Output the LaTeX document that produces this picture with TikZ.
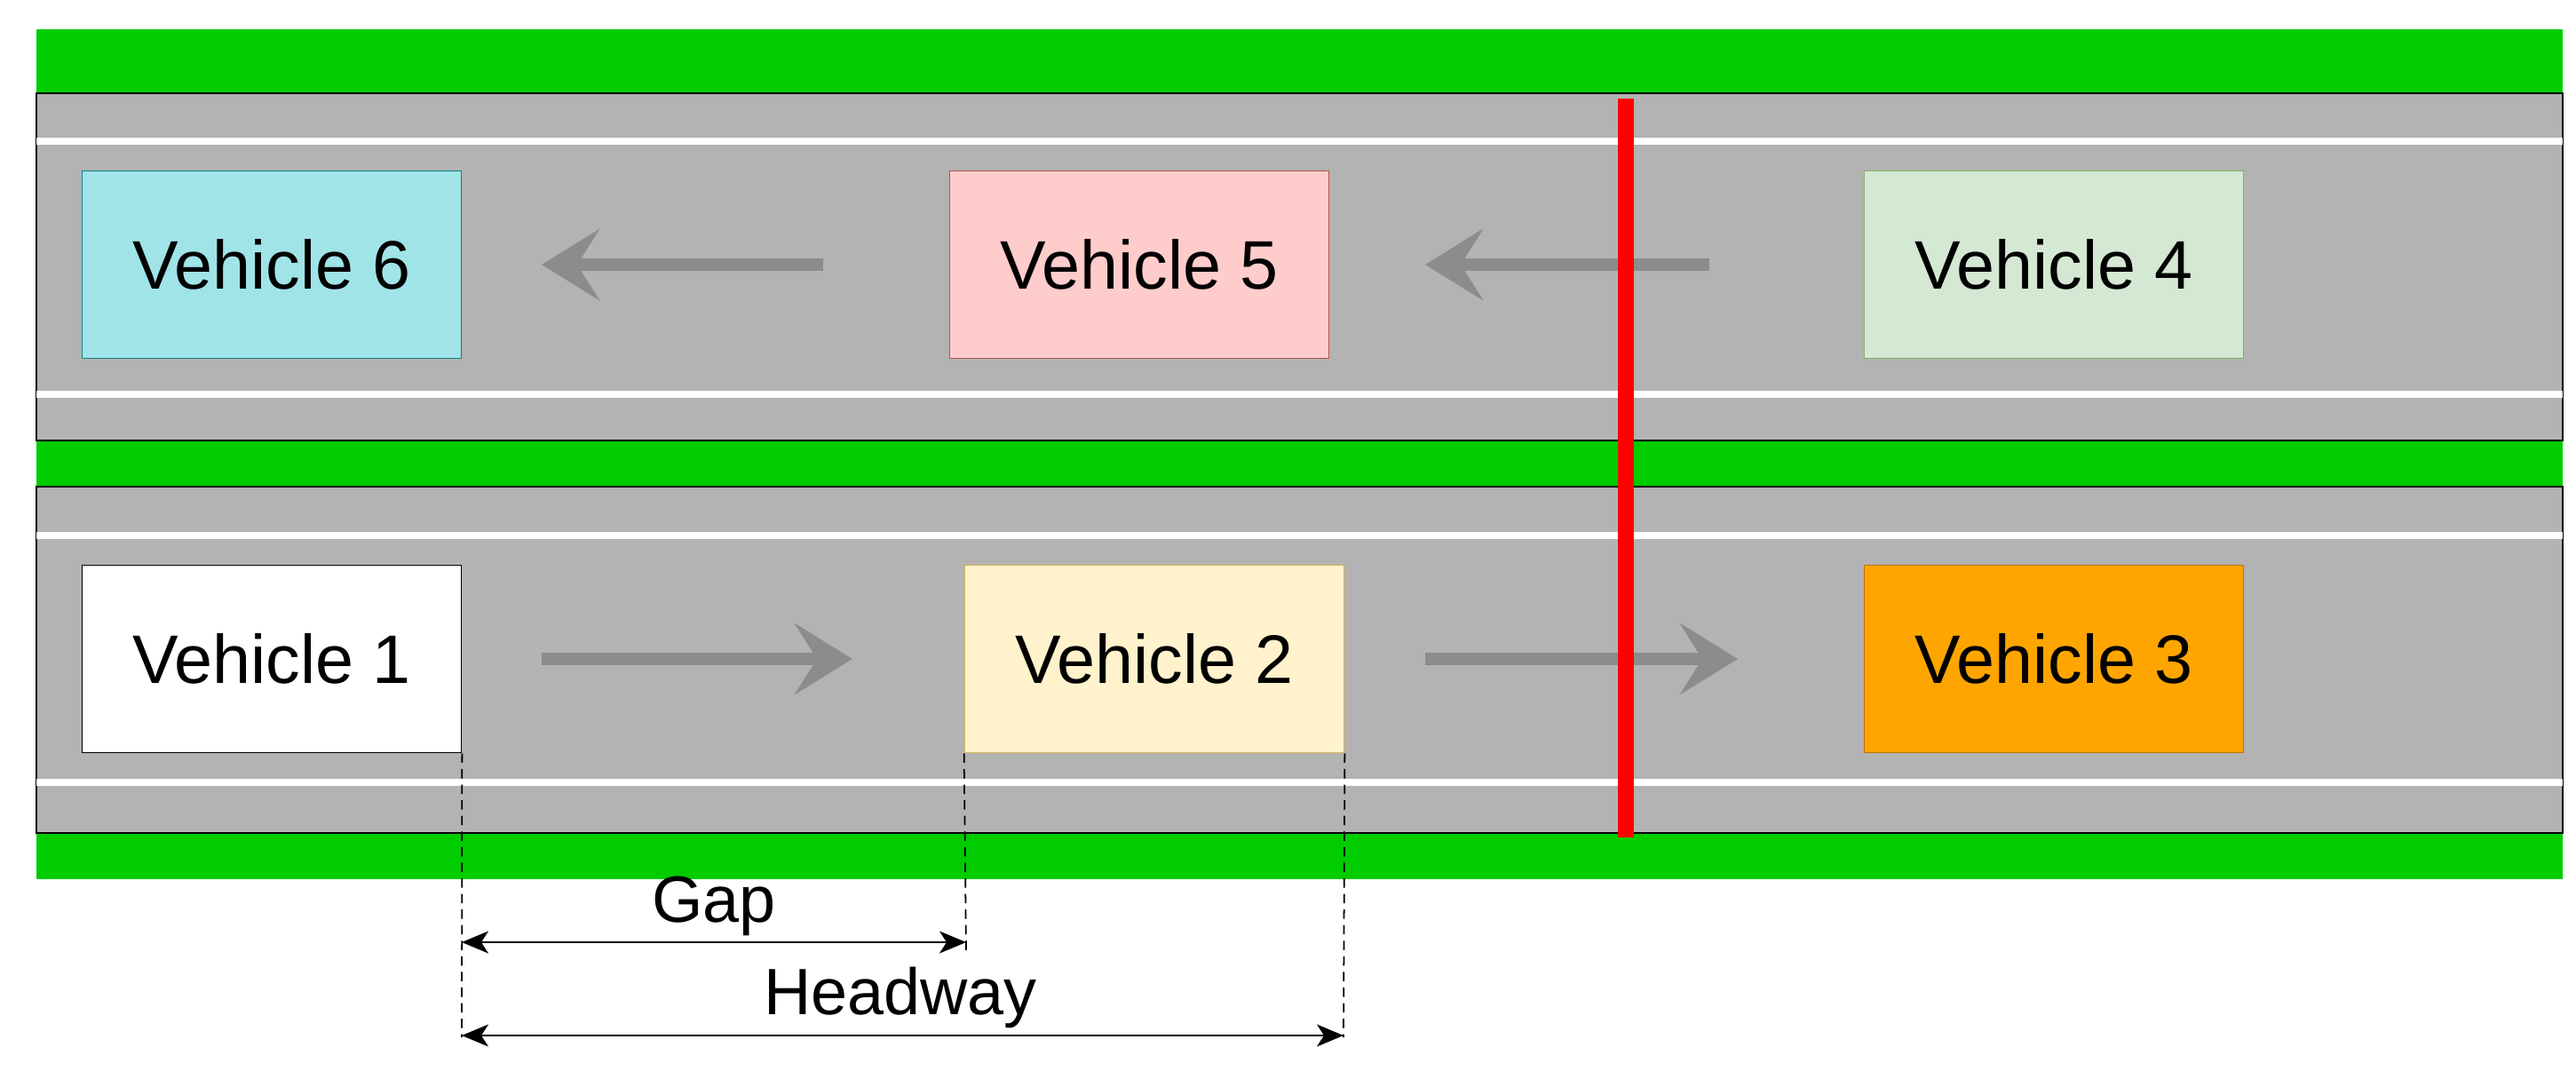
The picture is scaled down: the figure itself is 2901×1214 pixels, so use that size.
\documentclass[tikz,border=0pt]{standalone}
\usepackage{fontspec}
\setmainfont{Liberation Sans}
\usetikzlibrary{arrows.meta}
\definecolor{grass}{HTML}{00CC00}
\definecolor{road}{HTML}{B3B3B3}
\definecolor{flow}{HTML}{8C8C8C}
\begin{document}
\begin{tikzpicture}[x=0.1mm,y=-0.1mm,
  veh/.style={draw, line width=0.5pt, minimum width=42.7mm, minimum height=21.1mm, inner sep=0pt, font=\fontsize{22}{26}\selectfont},
  flowarrow/.style={draw=flow, line width=1.4mm, -{Stealth[length=6.5mm,width=8mm,inset=2.5mm]}},
  lane/.style={draw=white, line width=0.8mm},
  dim/.style={draw, line width=0.5pt, {Stealth[length=3mm,width=2.5mm,inset=0.8mm]}-{Stealth[length=3mm,width=2.5mm,inset=0.8mm]}},
  guide/.style={draw, line width=0.5pt, dashed, dash pattern=on 3pt off 2pt},
  lbl/.style={font=\fontsize{21}{25}\selectfont, inner sep=1pt}]
\useasboundingbox (0,0) rectangle (2901,1214);
% green bands
\fill[grass] (41,33) rectangle (2886,990);
% roads
\filldraw[fill=road, draw=black, line width=0.6pt] (41,105) rectangle (2886,496);
\filldraw[fill=road, draw=black, line width=0.6pt] (41,548) rectangle (2886,938);
% lane lines
\draw[lane] (41,159) -- (2886,159);
\draw[lane] (41,444) -- (2886,444);
\draw[lane] (41,603) -- (2886,603);
\draw[lane] (41,881) -- (2886,881);
% vehicles
\node[veh, fill={rgb,255:red,160;green,228;blue,232}, draw={rgb,255:red,14;green,128;blue,136}] (v6) at (306,298) {Vehicle 6};
\node[veh, fill={rgb,255:red,255;green,204;blue,204}, draw={rgb,255:red,184;green,84;blue,80}] (v5) at (1283,298) {Vehicle 5};
\node[veh, fill={rgb,255:red,213;green,232;blue,212}, draw={rgb,255:red,130;green,179;blue,102}] (v4) at (2313,298) {Vehicle 4};
\node[veh, fill=white, draw=black] (v1) at (306,742) {Vehicle 1};
\node[veh, fill={rgb,255:red,255;green,242;blue,204}, draw={rgb,255:red,214;green,182;blue,86}] (v2) at (1300,742) {Vehicle 2};
\node[veh, fill={rgb,255:red,255;green,165;blue,0}, draw={rgb,255:red,189;green,112;blue,0}] (v3) at (2313,742) {Vehicle 3};
% flow arrows
\coordinate (a1s) at (927,298); \coordinate (a1e) at (610,298);
\coordinate (a2s) at (1925,298); \coordinate (a2e) at (1605,298);
\coordinate (b1s) at (610,742); \coordinate (b1e) at (960,742);
\coordinate (b2s) at (1605,742); \coordinate (b2e) at (1957,742);
\draw[flowarrow] (a1s) -- (a1e);
\draw[flowarrow] (a2s) -- (a2e);
\draw[flowarrow] (b1s) -- (b1e);
\draw[flowarrow] (b2s) -- (b2e);
% red line
\coordinate (r1) at (1831,111); \coordinate (r2) at (1831,943);
\draw[red, line width=1.8mm] (r1) -- (r2);
% dimension guides
\coordinate (g1) at (v1.south east);
\coordinate (g2) at (v2.south west);
\coordinate (g3) at (v2.south east);
\coordinate (h1) at (520,1168);
\coordinate (h2) at (1088,1070);
\coordinate (h3) at (1513,1168);
\draw[guide] (g1) -- (h1);
\draw[guide] (g2) -- (h2);
\draw[guide] (g3) -- (h3);
\coordinate (d1a) at (520,1061); \coordinate (d1b) at (1088,1061);
\coordinate (d2a) at (520,1166); \coordinate (d2b) at (1513,1166);
\draw[dim] (d1a) -- (d1b);
\draw[dim] (d2a) -- (d2b);
\node[lbl, anchor=south] (gap) at (804,1058) {Gap};
\node[lbl, anchor=south] (hw) at (1014,1162) {Headway};
\end{tikzpicture}
\end{document}
